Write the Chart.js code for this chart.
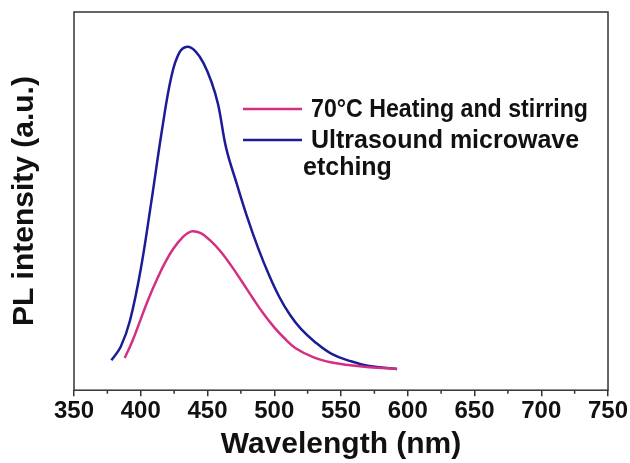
<!DOCTYPE html>
<html>
<head>
<meta charset="utf-8">
<script src="https://cdn.jsdelivr.net/npm/chart.js@4"></script>
<style>
  html, body { margin: 0; padding: 0; background: #fff; }
  #wrap { width: 630px; height: 463px; }
</style>
</head>
<body>
<div id="wrap"><canvas id="myChart"></canvas></div>
<script>
// ***** data *****
const seriesNames = ['70\u00B0C Heating and stirring', 'Ultrasound microwave etching']
const heatWave = [388, 394, 400, 406, 412, 418, 424, 431, 438, 445, 452, 460, 468, 476, 484, 492, 500, 508, 516, 530, 543, 557, 571, 592]
const heatPL   = [8.5, 13.2, 18.8, 24.3, 29.2, 33.6, 37.2, 40.3, 42.0, 41.5, 39.6, 36.6, 32.8, 28.6, 24.3, 20.2, 16.6, 13.6, 11.1, 8.6, 7.3, 6.6, 6.1, 5.6]
const etchWave = [378, 385, 392, 400, 408, 416, 423, 429, 435, 441, 447, 453, 458, 464, 472, 480, 488, 496, 504, 512, 520, 530, 543, 557, 571, 592]
const etchPL   = [7.9, 11.5, 18.5, 32.0, 50.0, 69.0, 83.0, 89.3, 90.8, 89.6, 86.5, 81.5, 75.5, 64.0, 54.5, 45.5, 37.5, 30.5, 24.5, 19.8, 16.2, 12.9, 9.6, 7.7, 6.4, 5.6]
const xTicks = [350, 400, 450, 500, 550, 600, 650, 700, 750]
const colors = ['#d42f80', '#1c1c96']

const toPoints = (xs, ys) => xs.map((x, i) => ({ x: x, y: ys[i] }))
const fontFamily = '"Liberation Sans", Arial, sans-serif'

// ***** frame, minor ticks and in-plot legend *****
const framePlugin = {
  id: 'frame',
  afterDraw(chart) {
    const { ctx, chartArea: a, scales } = chart
    ctx.save()
    ctx.strokeStyle = '#333'
    ctx.lineWidth = 1.5
    ctx.strokeRect(a.left, a.top, a.right - a.left, a.bottom - a.top)
    // minor ticks between the labelled ones
    ctx.beginPath()
    for (let i = 0; i < xTicks.length - 1; i++) {
      const px = scales.x.getPixelForValue((xTicks[i] + xTicks[i + 1]) / 2)
      ctx.moveTo(px, a.bottom)
      ctx.lineTo(px, a.bottom + 3.5)
    }
    ctx.stroke()

    // legend
    const ds = chart.data.datasets
    ctx.lineWidth = 2.5
    ctx.fillStyle = '#111'
    ctx.textBaseline = 'middle'
    ctx.font = 'bold 25px ' + fontFamily
    const rows = [109, 140]
    ds.forEach((d, i) => {
      ctx.strokeStyle = d.borderColor
      ctx.beginPath()
      ctx.moveTo(243, rows[i])
      ctx.lineTo(302, rows[i])
      ctx.stroke()
    })
    ctx.fillText(ds[0].label, 311, rows[0] + 1, 277)
    const words = ds[1].label.split(' ')
    ctx.fillText(words.slice(0, 2).join(' '), 311, rows[1] + 1, 270)
    ctx.fillText(words.slice(2).join(' '), 303, 168)
    ctx.restore()
  }
}

const ctx = document.getElementById('myChart').getContext('2d')
const myChart = new Chart(ctx, {
  type: 'line',
  data: {
    datasets: [{
      label: seriesNames[0],
      data: toPoints(heatWave, heatPL),
      borderColor: colors[0],
      borderWidth: 2.5,
      pointRadius: 0,
      tension: 0.4,
      fill: false
    }, {
      label: seriesNames[1],
      data: toPoints(etchWave, etchPL),
      borderColor: colors[1],
      borderWidth: 2.5,
      pointRadius: 0,
      tension: 0.4,
      fill: false
    }]
  },
  options: {
    responsive: true,
    maintainAspectRatio: false,
    animation: false,
    layout: { padding: { top: 12, right: 22, left: 0, bottom: 0 } },
    plugins: {
      legend: { display: false },
      tooltip: { enabled: false }
    },
    scales: {
      x: {
        type: 'linear',
        min: 350,
        max: 750,
        afterBuildTicks: scale => { scale.ticks = xTicks.map(v => ({ value: v })) },
        border: { display: false },
        grid: { drawOnChartArea: false, drawTicks: true, tickLength: 6, color: '#333', lineWidth: 1.5 },
        ticks: {
          color: '#111',
          padding: 1,
          maxRotation: 0,
          font: { family: fontFamily, size: 24, weight: 'bold' }
        },
        title: {
          display: true,
          text: 'Wavelength (nm)',
          color: '#111',
          padding: { top: 0, bottom: 0 },
          font: { family: fontFamily, size: 30, weight: 'bold' }
        }
      },
      y: {
        min: 0,
        max: 100,
        border: { display: false },
        grid: { display: false },
        ticks: { display: false },
        title: {
          display: true,
          text: 'PL intensity (a.u.)',
          color: '#111',
          padding: { top: 7, bottom: 23 },
          font: { family: fontFamily, size: 30, weight: 'bold' }
        }
      }
    }
  },
  plugins: [framePlugin]
})
</script>
</body>
</html>
